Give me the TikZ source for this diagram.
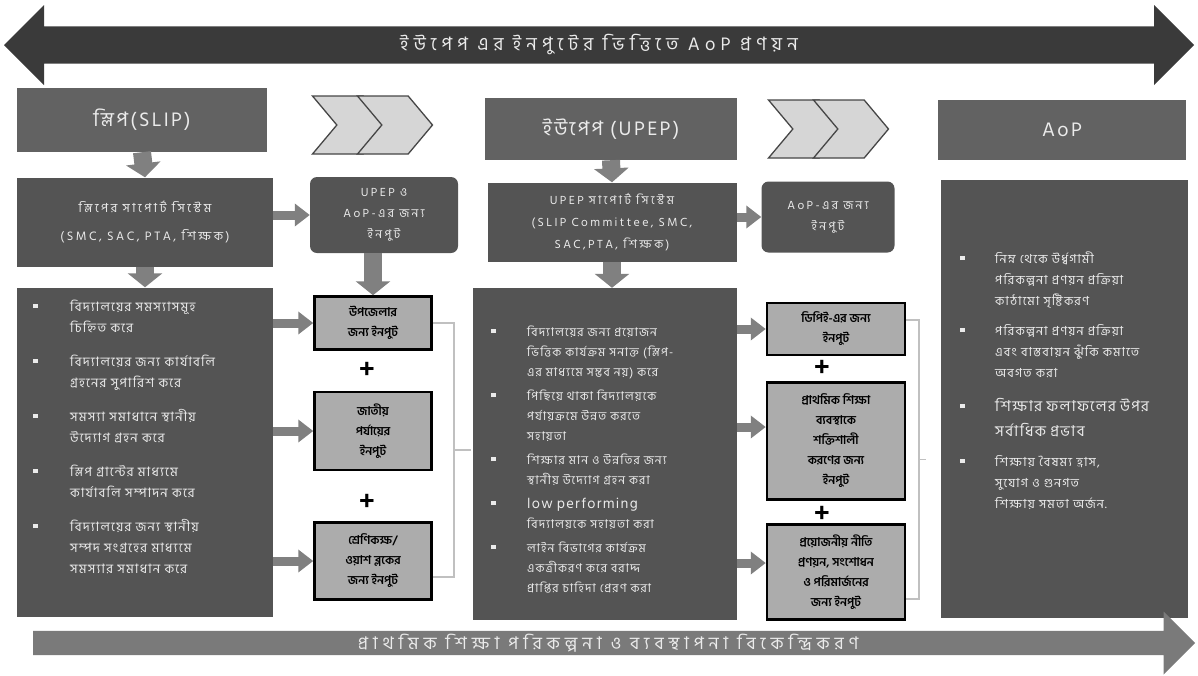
\documentclass[tikz,border=0pt]{standalone}
\usepackage{fontspec}
\setmainfont{Hind Siliguri}[Script=Bengali]
\newfontfamily\hdfont{Hind Siliguri}[Script=Bengali,LetterSpace=12.0]
\newfontfamily\lsfont{Hind Siliguri}[Script=Bengali,LetterSpace=9.0]
\newfontfamily\widefont{Hind Siliguri}[Script=Bengali,LetterSpace=20.0]
\newfontfamily\bandfont{Hind Siliguri}[Script=Bengali,LetterSpace=28.0]
\usepackage{enumitem}
\usepackage{tikz}
\usetikzlibrary{arrows.meta}
\usetikzlibrary{shapes.arrows}
\usetikzlibrary{shapes.symbols}
\usetikzlibrary{calc}

\definecolor{topdark}{RGB}{58,58,58}
\definecolor{boxgray}{RGB}{84,84,84}
\definecolor{headgray}{RGB}{98,98,98}
\definecolor{ingray}{RGB}{172,172,172}
\definecolor{chevfill}{RGB}{214,214,214}
\definecolor{chevline}{RGB}{70,70,70}
\definecolor{arrgray}{RGB}{128,128,128}
\definecolor{bandgray}{RGB}{122,122,122}
\definecolor{brkgray}{RGB}{192,192,192}
\definecolor{boxtext}{RGB}{235,235,235}

\setlist[itemize]{label=\rule[3pt]{4.5pt}{4.5pt}, align=left, labelwidth=8pt,
  topsep=0pt, partopsep=0pt, parsep=0pt}

\begin{document}
\begin{tikzpicture}[
    x=1pt, y=-1pt,
    every node/.style={font=\fontsize{11}{20}\selectfont, inner sep=0pt},
    headbox/.style={fill=headgray, text=boxtext, font=\hdfont\fontsize{20}{24}\selectfont},
    darkbox/.style={fill=boxgray, text=boxtext, align=center},
    softbox/.style={fill=boxgray, text=boxtext, rounded corners=7pt, align=center,
                    font=\widefont\fontsize{12}{21}\selectfont},
    inbox/.style={fill=ingray, draw=black, line width=2.5pt, align=center,
                  font=\bfseries\fontsize{12}{20}\selectfont},
    listtext/.style={text=boxtext, anchor=north west, align=left},
    chev/.style={signal, signal to=east, signal from=west, signal pointer angle=100,
                 fill=chevfill, draw=chevline, line width=1.3pt,
                 minimum width=75pt, minimum height=58pt},
    plussign/.style={font=\bfseries\fontsize{28}{28}\selectfont},
    varrow/.style={draw=arrgray, line width=18pt, -{Triangle[length=14pt,width=34pt]}},
    harrow/.style={draw=arrgray, line width=9pt, -{Triangle[length=15pt,width=22pt]}},
    brk/.style={draw=brkgray, line width=1.6pt}
]
\useasboundingbox (0,0) rectangle (1198,675);

% Top band
\node[double arrow, double arrow head extend=12pt, double arrow tip angle=90,
      minimum height=1190pt, minimum width=80pt, fill=topdark, text=boxtext,
      font=\bandfont\fontsize{18.5}{20}\selectfont] (upepband) at (599,45)
      {ইউপেপ এর ইনপুটের ভিত্তিতে AoP প্রণয়ন};

% SLIP column
\node[headbox, minimum width=250pt, minimum height=64pt] (slip) at (142,120) {স্লিপ(SLIP)};
\node[darkbox, minimum width=256pt, minimum height=89pt, font=\widefont\fontsize{12.5}{28}\selectfont]
      (slipsup) at (145,222) {স্লিপের সাপোর্ট সিস্টেম\\(SMC, SAC, PTA, শিক্ষক)};
\node[darkbox, minimum width=256pt, minimum height=329pt] (slipbox) at (145,452) {};
\node[listtext, text width=232pt, font=\lsfont\fontsize{13}{21}\selectfont] (sliplist) at (33,290) {%
  \begin{itemize}[leftmargin=37pt, labelsep=29pt, itemsep=13pt]
  \item বিদ্যালয়ের সমস্যাসমূহ\\ চিহ্নিত করে
  \item বিদ্যালয়ের জন্য কার্যাবলি\\ গ্রহনের সুপারিশ করে
  \item সমস্যা সমাধানে স্থানীয়\\ উদ্যোগ গ্রহন করে
  \item স্লিপ গ্রান্টের মাধ্যমে\\ কার্যাবলি সম্পাদন করে
  \item বিদ্যালয়ের জন্য স্থানীয়\\ সম্পদ সংগ্রহের মাধ্যমে\\ সমস্যার সমাধান করে
  \end{itemize}};

% Inputs for UPEP and AoP
\node[chev] (chevA1) at (350,125) {};
\node[chev] (chevA2) at (395,125) {};
\node[softbox, minimum width=148pt, minimum height=76pt] (upin) at (384,215)
      {UPEP ও\\AoP-এর জন্য\\ইনপুট};
\node[inbox, minimum width=117pt, minimum height=53pt] (inp1) at (373,323) {উপজেলার\\জন্য ইনপুট};
\node[plussign] (plus1) at (367,370) {+};
\node[inbox, minimum width=117pt, minimum height=78pt] (inp2) at (373,431) {জাতীয়\\পর্যায়ের\\ইনপুট};
\node[plussign] (plus2) at (367,502) {+};
\node[inbox, minimum width=117pt, minimum height=77pt] (inp3) at (373,561) {শ্রেণিকক্ষ/\\ওয়াশ ব্লকের\\জন্য ইনপুট};

% UPEP column
\node[headbox, minimum width=252pt, minimum height=62pt] (upep) at (611,129) {ইউপেপ (UPEP)};
\node[darkbox, minimum width=249pt, minimum height=79pt, font=\widefont\fontsize{12}{22}\selectfont]
      (upsup) at (612,222) {UPEP সাপোর্ট সিস্টেম\\(SLIP Committee, SMC,\\SAC,PTA, শিক্ষক)};
\node[darkbox, minimum width=264pt, minimum height=332pt] (upbox) at (605,454) {};
\node[listtext, text width=236pt, font=\lsfont\fontsize{12}{20}\selectfont] (uplist) at (491,316) {%
  \begin{itemize}[leftmargin=36pt, labelsep=28pt, itemsep=4pt]
  \item বিদ্যালয়ের জন্য প্রয়োজন\\ ভিত্তিক কার্যক্রম সনাক্ত (স্লিপ-\\ এর মাধ্যমে সম্ভব নয়) করে
  \item পিছিয়ে থাকা বিদ্যালয়কে\\ পর্যায়ক্রমে উন্নত করতে\\ সহায়তা
  \item শিক্ষার মান ও উন্নতির জন্য\\ স্থানীয় উদ্যোগ গ্রহন করা
  \item {\fontsize{14.5}{20}\selectfont low performing}\\ বিদ্যালয়কে সহায়তা করা
  \item লাইন বিভাগের কার্যক্রম\\ একত্রীকরণ করে বরাদ্দ\\ প্রাপ্তির চাহিদা প্রেরণ করা
  \end{itemize}};

% Inputs for AoP
\node[chev] (chevB1) at (806,129) {};
\node[chev] (chevB2) at (851,129) {};
\node[softbox, minimum width=133pt, minimum height=71pt] (aopin) at (828,217) {AoP-এর জন্য\\ইনপুট};
\node[inbox, minimum width=138pt, minimum height=52pt] (dp1) at (836,329) {ডিপিই-এর জন্য\\ইনপুট};
\node[plussign] (plus3) at (822,368) {+};
\node[inbox, minimum width=138pt, minimum height=117pt] (dp2) at (836,441)
      {প্রাথমিক শিক্ষা\\ব্যবস্থাকে\\শক্তিশালী\\করণের জন্য\\ইনপুট};
\node[plussign] (plus4) at (822,514) {+};
\node[inbox, minimum width=138pt, minimum height=95pt] (dp3) at (836,572)
      {প্রয়োজনীয় নীতি\\প্রণয়ন, সংশোধন\\ও পরিমার্জনের\\জন্য ইনপুট};

% AoP column
\node[headbox, minimum width=248pt, minimum height=60pt] (aop) at (1062,130) {AoP};
\node[darkbox, minimum width=247pt, minimum height=438pt] (aopbox) at (1064,399) {};
\node[listtext, text width=222pt, font=\lsfont\fontsize{12.5}{21}\selectfont] (aoplist) at (960,242) {%
  \begin{itemize}[leftmargin=35pt, labelsep=27pt, itemsep=9pt]
  \item নিম্ন থেকে উর্ধ্বগামী\\ পরিকল্পনা প্রণয়ন প্রক্রিয়া\\ কাঠামো সৃষ্টিকরণ
  \item পরিকল্পনা প্রণয়ন প্রক্রিয়া\\ এবং বাস্তবায়ন ঝুঁকি কমাতে\\ অবগত করা
  \item {\fontsize{15}{25}\selectfont শিক্ষার ফলাফলের উপর\\ সর্বাধিক প্রভাব\par}
  \item শিক্ষায় বৈষম্য হ্রাস,\\ সুযোগ ও গুনগত\\ শিক্ষায় সমতা অর্জন.
  \end{itemize}};

% Bottom band
\node[single arrow, single arrow head extend=15pt, single arrow tip angle=90,
      minimum height=1162pt, minimum width=63pt, fill=bandgray, text=boxtext,
      anchor=tail, font=\bandfont\fontsize{17.5}{18}\selectfont] (decband) at (33,643)
      {প্রাথমিক শিক্ষা পরিকল্পনা ও ব্যবস্থাপনা বিকেন্দ্রিকরণ};

% Block arrows
\draw[varrow] (slip.south) -- (slipsup.north);
\draw[varrow] (slipsup.south) -- (slipbox.north);
\draw[varrow] (upep.south) -- (upsup.north);
\draw[varrow] (upsup.south) -- (upsup.south |- upbox.north);
\draw[varrow] (inp1.north |- upin.south) -- (inp1.north);
\draw[harrow] (slipsup.east |- upin.west) -- (upin.west);
\draw[harrow] (upsup.east |- aopin.west) -- (aopin.west);
\draw[harrow] (slipbox.east |- inp1.west) -- (inp1.west);
\draw[harrow] (slipbox.east |- inp2.west) -- (inp2.west);
\draw[harrow] (slipbox.east |- inp3.west) -- (inp3.west);
\draw[harrow] (upbox.east |- dp1.west) -- (dp1.west);
\draw[harrow] ([yshift=14pt]upbox.east |- dp2.west) -- ([yshift=14pt]dp2.west);
\draw[harrow] ([yshift=9pt]upbox.east |- dp3.west) -- ([yshift=9pt]dp3.west);

% Brackets
\coordinate (bkA) at ([yshift=-16pt]inp3.east);
\draw[brk] (inp1.east) -| ([xshift=21pt]bkA) -- (bkA);
\draw[brk] ($(inp1.east)!0.5!(bkA)$) ++(21,0) -- ++(17,0);
\coordinate (bkB) at ([yshift=-27pt]dp3.east);
\draw[brk] ([yshift=9pt]dp1.east) -| ([xshift=13pt]bkB) -- (bkB);
\draw[brk] ($([yshift=9pt]dp1.east)!0.5!(bkB)$) ++(13,0) -- ++(7,0);

\end{tikzpicture}
\end{document}
